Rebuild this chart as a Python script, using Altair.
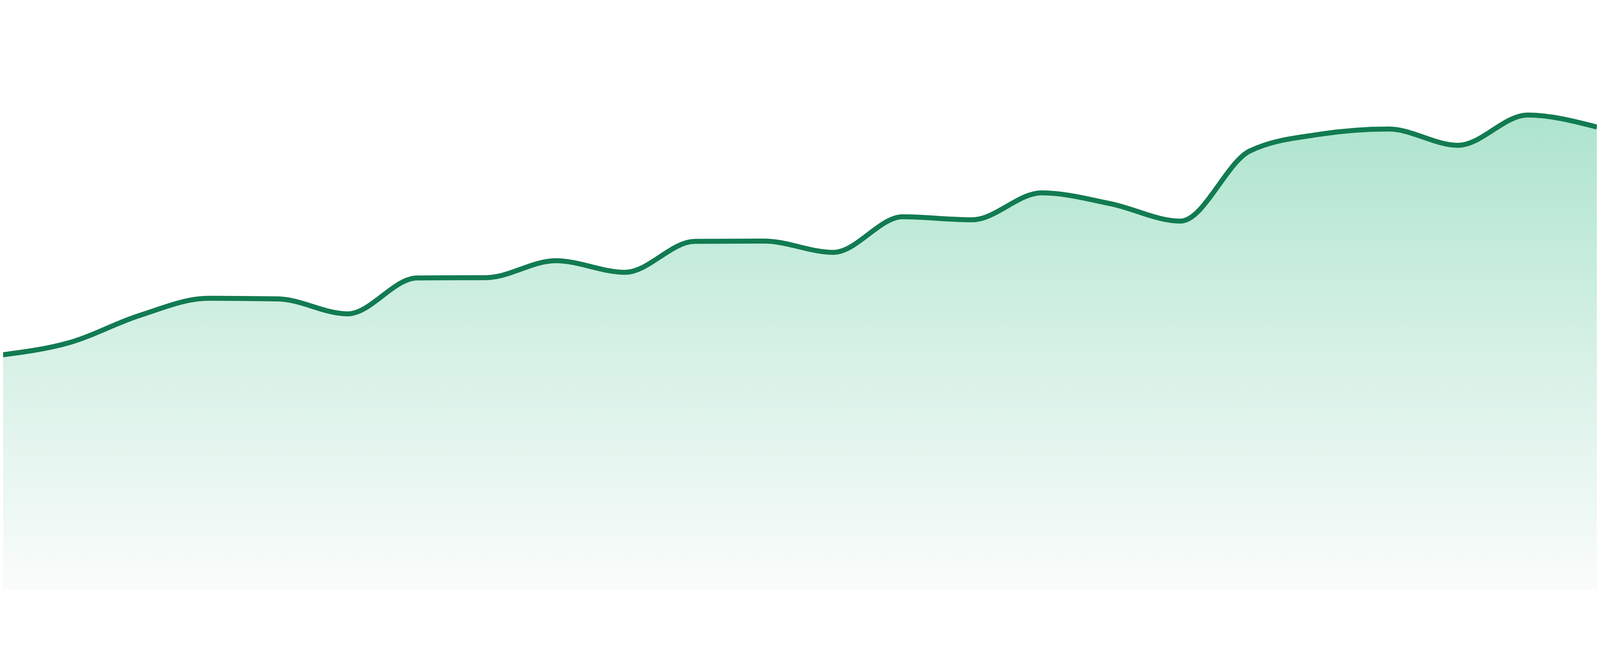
import altair as alt
import pandas as pd

# data
index = list(range(24))
values = [70.7, 74.5, 82.6, 87.8, 87.6, 83.1, 93.9, 94.0, 99.1, 95.6,
          104.9, 105.0, 101.6, 112.3, 111.4, 119.5, 116.2, 111.0, 132.1,
          137.1, 138.7, 133.8, 142.9, 139.3]

df = pd.DataFrame({"i": index, "v": values})

x_enc = alt.X("i:Q", scale=alt.Scale(domain=[8 * 23 / 4800, 23], nice=False, zero=False), axis=None)
y_enc = alt.Y("v:Q", scale=alt.Scale(domain=[0, 162.4], nice=False, zero=True), axis=None)

area = alt.Chart(df).mark_area(
    interpolate="monotone",
    clip=True,
    color=alt.Gradient(
        gradient="linear",
        stops=[
            alt.GradientStop(color="#fafcfb", offset=0),
            alt.GradientStop(color="#d6f1e6", offset=0.5),
            alt.GradientStop(color="#ade4cd", offset=1),
        ],
        x1=1, x2=1, y1=1, y2=0,
    ),
).encode(x=x_enc, y=y_enc)

line = alt.Chart(df).mark_line(
    interpolate="monotone",
    clip=True,
    color="#127b51",
    strokeWidth=15,
).encode(x=x_enc, y=y_enc)

chart = alt.layer(area, line).properties(
    width=4792,
    height=1624,
    padding=0,
    autosize=alt.AutoSizeParams(type="none"),
    background="white",
).configure_view(strokeWidth=0)

chart.save("out.html", embed_options={"renderer": "svg", "actions": False})
